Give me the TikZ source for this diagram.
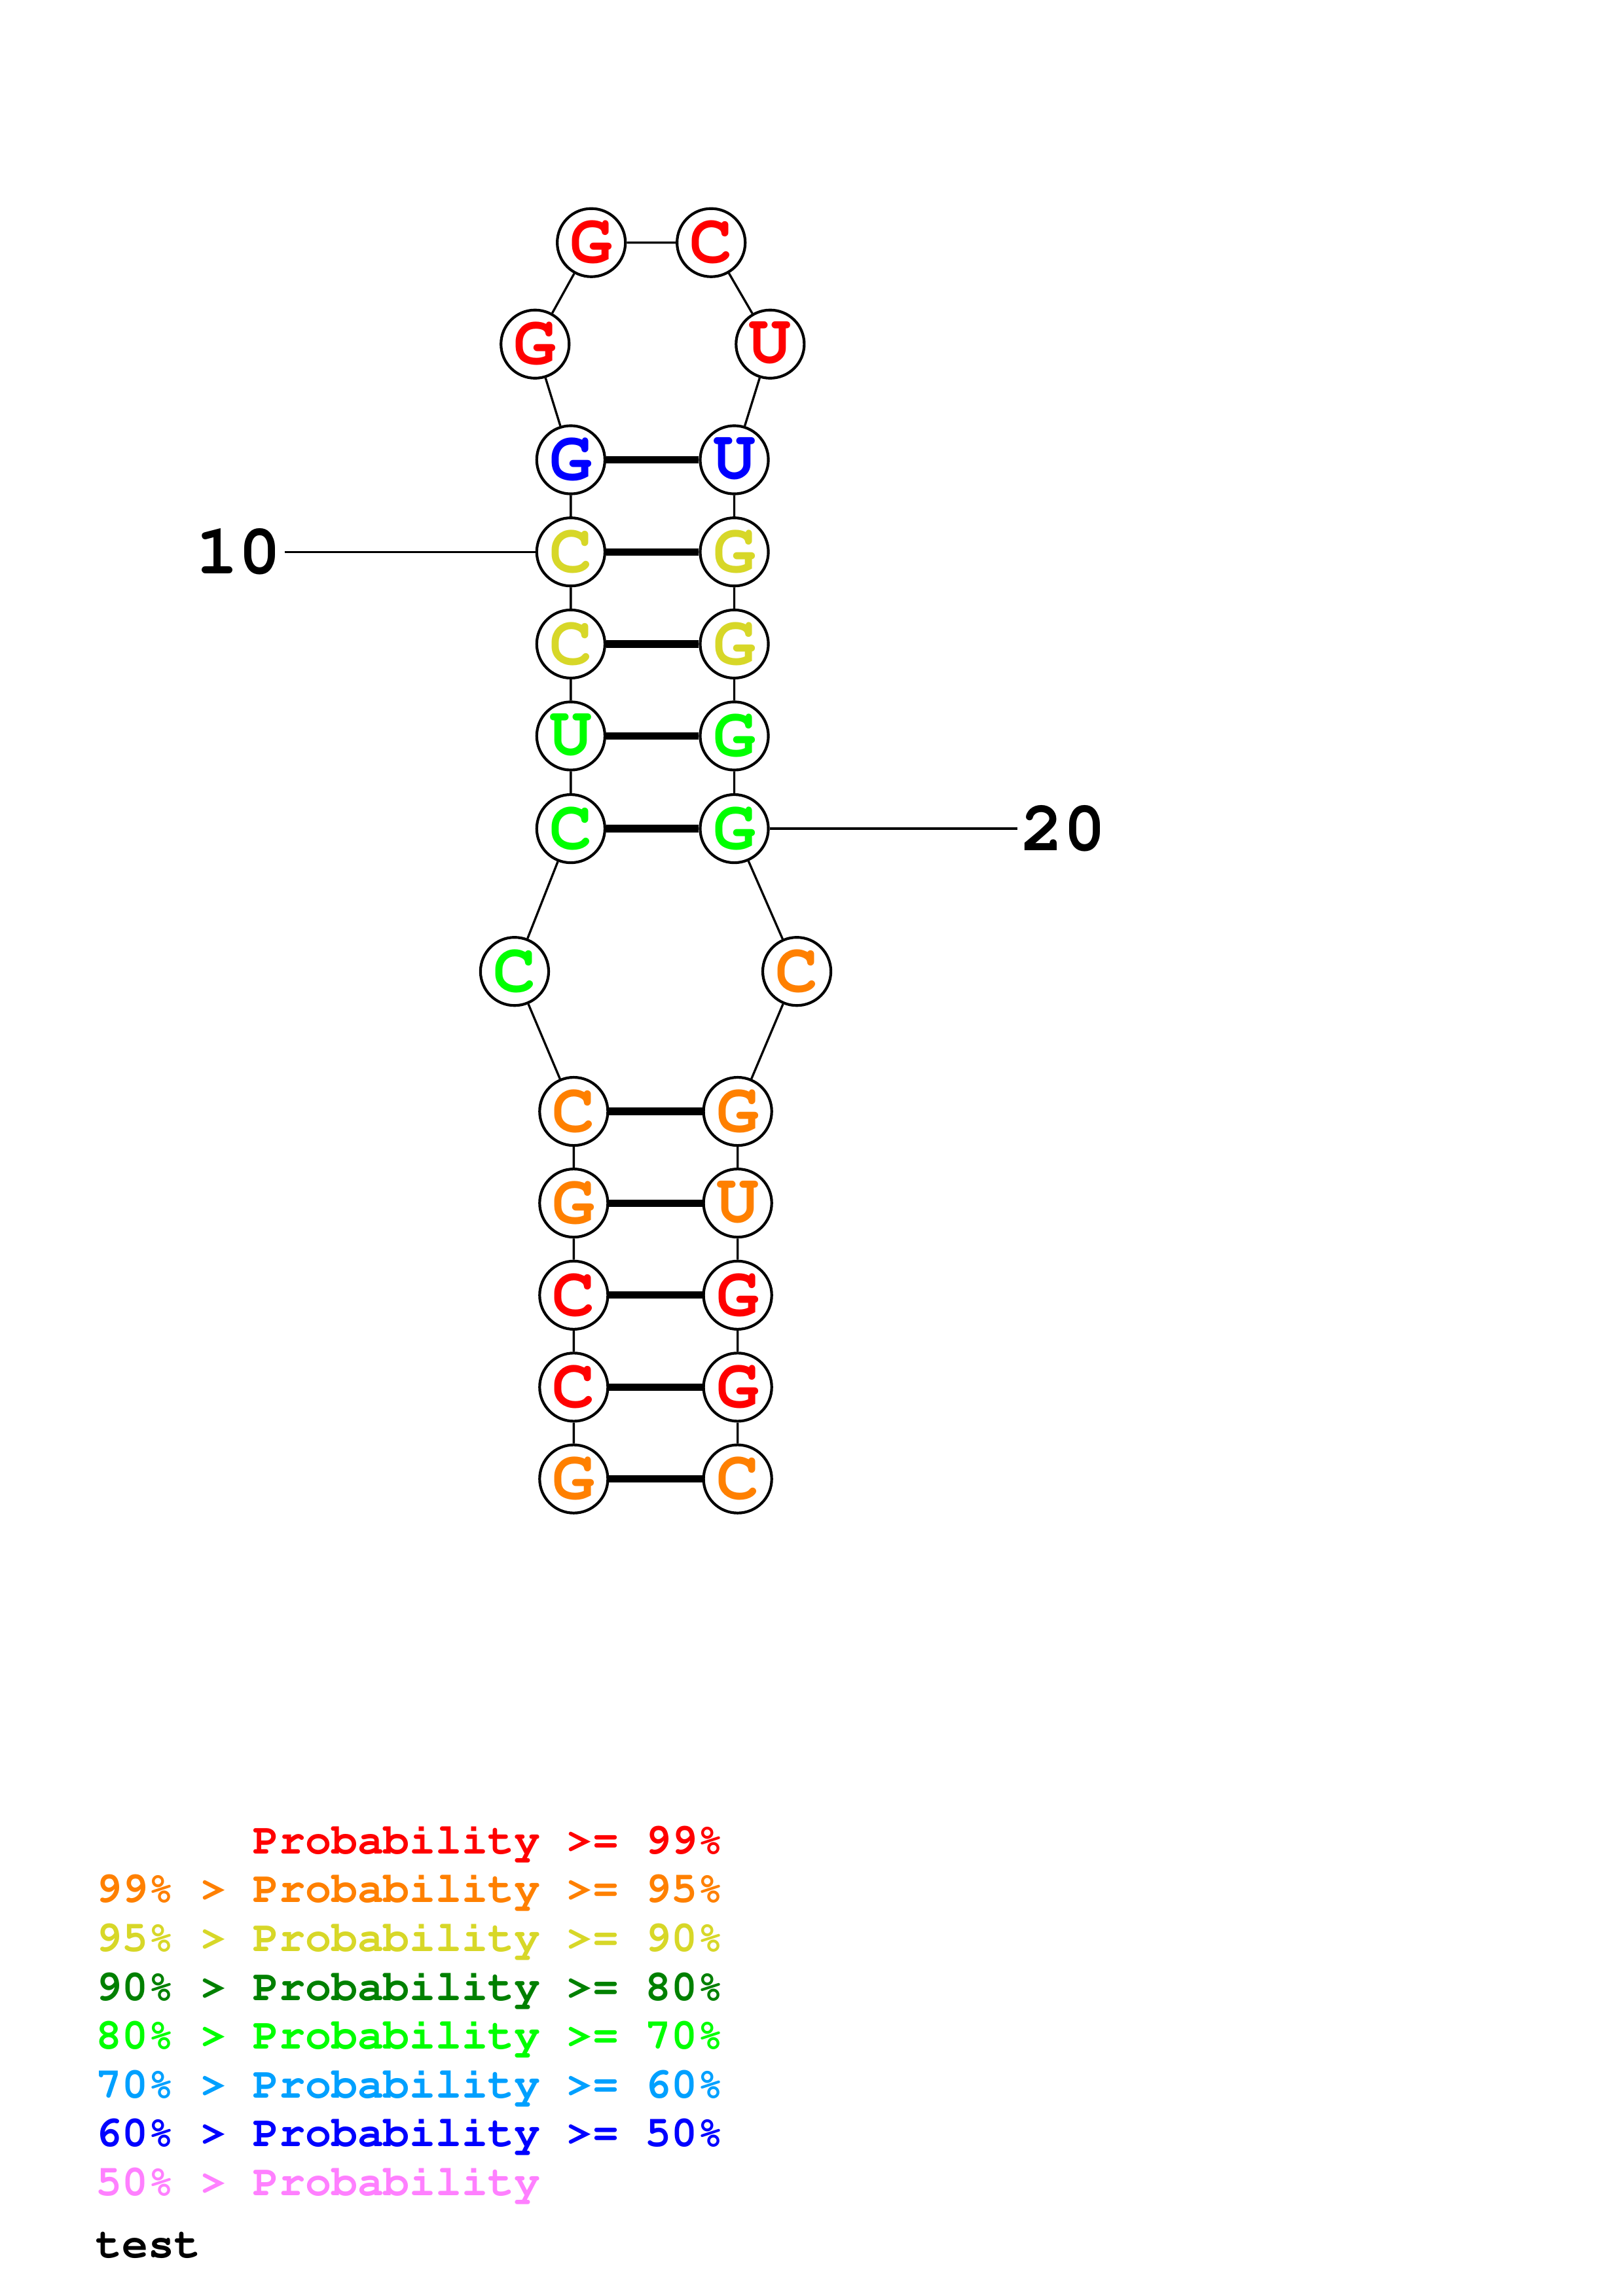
\documentclass[tikz,border=0pt]{standalone}
\usepackage[T1]{fontenc}
\usepackage{fontspec}
\setmonofont{Liberation Mono}
\newcommand{\courbold}{\fontencoding{T1}\fontfamily{pcr}\fontseries{b}\selectfont}
\definecolor{prob99}{RGB}{255,0,0}
\definecolor{prob95}{RGB}{255,128,0}
\definecolor{prob90}{RGB}{215,215,40}
\definecolor{prob80}{RGB}{0,128,0}
\definecolor{prob70}{RGB}{0,255,0}
\definecolor{prob60}{RGB}{0,160,255}
\definecolor{prob50}{RGB}{0,0,255}
\definecolor{problow}{RGB}{255,128,255}
\begin{document}
\begin{tikzpicture}[x=0.53726pt,y=-0.53726pt,
    nuc/.style={circle,draw,fill=white,line width=1pt,minimum size=25pt,inner sep=0pt,
        font=\fontsize{26}{26}\courbold},
    bb/.style={line width=0.8pt},
    bp/.style={line width=2.7pt},
    numlab/.style={inner sep=1pt,font=\fontsize{26}{26}\courbold},
    legend/.style={anchor=base west,inner sep=0pt,font=\fontsize{16}{16}\courbold}]
    \useasboundingbox (0,0) rectangle (1108,1568);
    % lower stem, 5' strand
    \node[nuc,text=prob95] (n1) at (391.7,1010) {G};
    \node[nuc,text=prob99] (n2) at (391.7,947.3) {C};
    \node[nuc,text=prob99] (n3) at (391.7,884.5) {C};
    \node[nuc,text=prob95] (n4) at (391.7,821.6) {G};
    \node[nuc,text=prob95] (n5) at (391.7,759) {C};
    % interior loop
    \node[nuc,text=prob70] (n6) at (351.3,663.4) {C};
    % upper stem, 5' strand
    \node[nuc,text=prob70] (n7) at (389.7,565.9) {C};
    \node[nuc,text=prob70] (n8) at (389.7,502.6) {U};
    \node[nuc,text=prob90] (n9) at (389.7,439.8) {C};
    \node[nuc,text=prob90] (n10) at (389.7,376.9) {C};
    \node[nuc,text=prob50] (n11) at (389.7,314) {G};
    % hairpin loop
    \node[nuc,text=prob99] (n12) at (365.3,235) {G};
    \node[nuc,text=prob99] (n13) at (403.7,165.7) {G};
    \node[nuc,text=prob99] (n14) at (485.5,165.7) {C};
    \node[nuc,text=prob99] (n15) at (525.8,235) {U};
    % upper stem, 3' strand
    \node[nuc,text=prob50] (n16) at (501.3,314) {U};
    \node[nuc,text=prob90] (n17) at (501.3,376.9) {G};
    \node[nuc,text=prob90] (n18) at (501.3,439.8) {G};
    \node[nuc,text=prob70] (n19) at (501.3,502.6) {G};
    \node[nuc,text=prob70] (n20) at (501.3,565.9) {G};
    % interior loop
    \node[nuc,text=prob95] (n21) at (544,663.4) {C};
    % lower stem, 3' strand
    \node[nuc,text=prob95] (n22) at (503.6,759) {G};
    \node[nuc,text=prob95] (n23) at (503.6,821.6) {U};
    \node[nuc,text=prob99] (n24) at (503.6,884.5) {G};
    \node[nuc,text=prob99] (n25) at (503.6,947.3) {G};
    \node[nuc,text=prob95] (n26) at (503.6,1010) {C};
    % position numbers
    \node[numlab] (lab10) at (163,376.9) {10};
    \node[numlab] (lab20) at (726,565.9) {20};
    % backbone
    \draw[bb] (n1) -- (n2) -- (n3) -- (n4) -- (n5) -- (n6) -- (n7) -- (n8) -- (n9)
        -- (n10) -- (n11) -- (n12) -- (n13) -- (n14) -- (n15) -- (n16) -- (n17)
        -- (n18) -- (n19) -- (n20) -- (n21) -- (n22) -- (n23) -- (n24) -- (n25) -- (n26);
    \draw[bb] (lab10) -- (n10);
    \draw[bb] (n20) -- (lab20);
    % base pairs
    \draw[bp] (n1) -- (n26) (n2) -- (n25) (n3) -- (n24) (n4) -- (n23) (n5) -- (n22)
        (n7) -- (n20) (n8) -- (n19) (n9) -- (n18) (n10) -- (n17) (n11) -- (n16);
    % legend
    \node[legend,text=prob99] (leg99) at (65,1266) {\phantom{99\% > }Probability >= 99\%};
    \node[legend,text=prob95] (leg95) at (65,1299.3) {99\% > Probability >= 95\%};
    \node[legend,text=prob90] (leg90) at (65,1332.6) {95\% > Probability >= 90\%};
    \node[legend,text=prob80] (leg80) at (65,1366) {90\% > Probability >= 80\%};
    \node[legend,text=prob70] (leg70) at (65,1399.3) {80\% > Probability >= 70\%};
    \node[legend,text=prob60] (leg60) at (65,1432.6) {70\% > Probability >= 60\%};
    \node[legend,text=prob50] (leg50) at (65,1466) {60\% > Probability >= 50\%};
    \node[legend,text=problow] (leglow) at (65,1499.3) {50\% > Probability};
    \node[legend] (title) at (65,1542) {test};
\end{tikzpicture}
\end{document}
